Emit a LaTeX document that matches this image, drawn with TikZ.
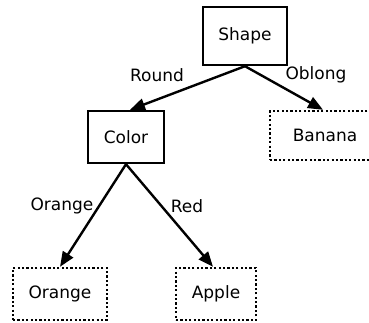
\documentclass[tikz,border=0pt]{standalone}
\usepackage{fontspec}
\setmainfont{DejaVu Sans}
\usetikzlibrary{arrows.meta}
\begin{document}
\begin{tikzpicture}[x=1pt,y=-1pt,
  every node/.style={font=\fontsize{17}{20}\selectfont, text=black},
  decision/.style={draw=black, line width=2.4pt, inner sep=0pt},
  leaf/.style={draw=black, line width=2.4pt, dash pattern=on 2.2pt off 2.2pt, inner sep=0pt},
  branch/.style={line width=2.4pt, -{Triangle[length=15pt,width=12pt]}},
  edgelabel/.style={inner sep=0pt}]
\useasboundingbox (0,0) rectangle (369,322);

% decision nodes
\node[decision, minimum width=84pt, minimum height=58pt] (shape) at (245,36) {Shape};
\node[decision, minimum width=76pt, minimum height=52pt] (color) at (126,137) {Color};

% leaves
\node[leaf, minimum width=110pt, minimum height=49pt] (banana) at (325,135.5) {Banana};
\node[leaf, minimum width=94pt, minimum height=52pt] (orange) at (60,294) {Orange};
\node[leaf, minimum width=80pt, minimum height=52pt] (apple) at (216,294) {Apple};

% branches
\draw[branch] (shape.south) -- ([xshift=4pt]color.north);
\draw[branch] (shape.south) -- ([xshift=-2pt]banana.north);
\draw[branch] (color.south) -- (orange.north);
\draw[branch] (color.south) -- ([xshift=-3pt]apple.north);

% branch labels
\node[edgelabel] (lround) at (157,75) {Round};
\node[edgelabel] (loblong) at (316,75) {Oblong};
\node[edgelabel] (lorange) at (62,206) {Orange};
\node[edgelabel] (lred) at (187,206) {Red};
\end{tikzpicture}
\end{document}
